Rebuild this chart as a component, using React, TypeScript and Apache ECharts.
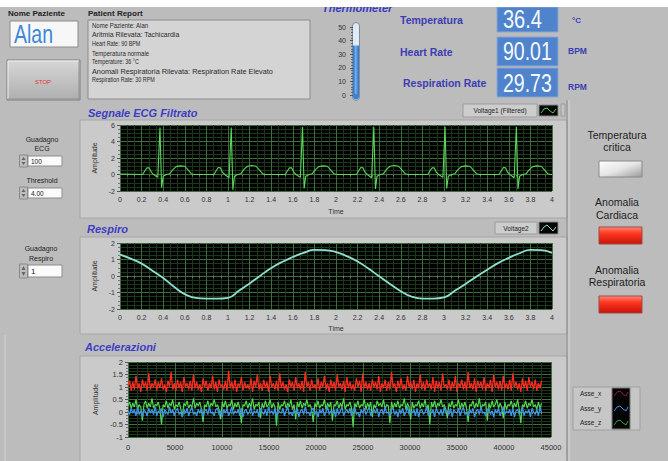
import React, { useEffect, useRef } from "react";
import * as echarts from "echarts";

const FONT = '"Liberation Sans", Arial, sans-serif';

// ---- Data ----
// ECG filtered signal: [time (s), amplitude]
const ecgPoints: number[][] = [
  [0, 0.05], [0.21, 0.0], [0.23, 0.45], [0.25, 0.8], [0.27, 0.8], [0.29, 0.3], [0.31, 0.0], [0.35, -0.35],
  [0.37, 5.7], [0.385, -1.6], [0.4, -0.2], [0.43, 0.0], [0.46, 0.1], [0.49, 0.6], [0.52, 0.95], [0.56, 1.05],
  [0.6, 1.0], [0.63, 0.55], [0.66, 0.1], [0.69, 0.0],
  [0.87, 0.0], [0.89, 0.45], [0.91, 0.85], [0.93, 0.8], [0.95, 0.25], [0.97, 0.0], [1.01, -0.4],
  [1.03, 5.7], [1.045, -1.85], [1.06, -0.2], [1.09, 0.0], [1.12, 0.1], [1.15, 0.65], [1.18, 1.0], [1.22, 1.1],
  [1.26, 1.0], [1.29, 0.55], [1.32, 0.1], [1.35, 0.0],
  [1.53, 0.0], [1.55, 0.45], [1.57, 0.8], [1.59, 0.8], [1.61, 0.25], [1.63, 0.0], [1.67, -0.35],
  [1.69, 5.75], [1.705, -1.7], [1.72, -0.2], [1.75, 0.0], [1.78, 0.1], [1.81, 0.6], [1.84, 0.95], [1.88, 1.05],
  [1.92, 1.0], [1.95, 0.55], [1.98, 0.1], [2.01, 0.0],
  [2.19, 0.0], [2.21, 0.45], [2.23, 0.85], [2.25, 0.8], [2.27, 0.25], [2.29, 0.0], [2.33, -0.4],
  [2.35, 5.8], [2.365, -1.75], [2.38, -0.2], [2.41, 0.0], [2.44, 0.1], [2.47, 0.65], [2.5, 1.0], [2.54, 1.1],
  [2.58, 1.0], [2.61, 0.55], [2.64, 0.1], [2.67, 0.0],
  [2.85, 0.0], [2.87, 0.45], [2.89, 0.8], [2.91, 0.8], [2.93, 0.25], [2.95, 0.0], [2.99, -0.35],
  [3.01, 5.8], [3.025, -1.7], [3.04, -0.2], [3.07, 0.0], [3.1, 0.1], [3.13, 0.6], [3.16, 0.95], [3.2, 1.05],
  [3.24, 1.0], [3.27, 0.55], [3.3, 0.1], [3.33, 0.0],
  [3.51, 0.0], [3.53, 0.45], [3.55, 0.85], [3.57, 0.8], [3.59, 0.25], [3.61, 0.0], [3.65, -0.4],
  [3.67, 5.8], [3.685, -1.75], [3.7, -0.2], [3.73, 0.0], [3.76, 0.1], [3.79, 0.6], [3.82, 0.95], [3.86, 1.05],
  [3.9, 1.0], [3.93, 0.55], [3.96, 0.1], [3.99, 0.0], [4.0, 0.0],
];

// Respiration signal
const respTimes = [
  0, 0.1, 0.2, 0.3, 0.4, 0.5, 0.6, 0.7, 0.8, 0.9, 1.0, 1.1, 1.2, 1.3, 1.4, 1.5, 1.6, 1.7, 1.8, 1.9, 2.0,
  2.1, 2.2, 2.3, 2.4, 2.5, 2.6, 2.7, 2.8, 2.9, 3.0, 3.1, 3.2, 3.3, 3.4, 3.5, 3.6, 3.7, 3.8, 3.9, 4.0,
];
const respValues = [
  1.3, 1.05, 0.75, 0.32, -0.12, -0.65, -1.1, -1.33, -1.37, -1.37, -1.32, -0.9, -0.45, 0.02, 0.48, 0.85, 1.15,
  1.4, 1.58, 1.57, 1.45, 1.2, 0.88, 0.45, -0.02, -0.48, -0.92, -1.25, -1.37, -1.37, -1.3, -0.9, -0.48, -0.04,
  0.38, 0.78, 1.1, 1.38, 1.58, 1.57, 1.4,
];

// Accelerations (samples 0..accLastSample)
const accLastSample = 44000;
const accAsseX = [
  1.05, 1.25, 0.85, 1.2, 0.9, 1.45, 0.95, 1.15, 0.8, 1.3, 1.0, 1.2, 0.85, 1.55, 0.9, 1.15, 1.0, 1.3, 0.85, 1.2,
  0.95, 1.35, 0.9, 1.1, 0.8, 1.25, 1.0, 1.6, 0.9, 1.15, 0.85, 1.3, 0.95, 1.2, 0.8, 1.4, 1.0, 1.15, 0.9, 1.25,
  0.85, 1.5, 0.95, 1.2, 0.9, 1.1, 0.8, 1.35, 1.0, 1.25, 0.85, 1.15, 0.95, 1.45, 0.9, 1.2, 0.8, 1.3, 1.0, 1.1,
  0.9, 1.25, 0.85, 1.65, 0.95, 1.2, 0.9, 1.3, 0.8, 1.15, 1.0, 1.4, 0.85, 1.2, 0.95, 1.1, 0.9, 1.35, 0.8, 1.25,
  1.0, 1.5, 0.9, 1.15, 0.85, 1.3, 0.95, 1.2, 0.8, 1.45, 1.0, 1.15, 0.9, 1.25, 0.85, 1.55, 0.95, 1.2, 0.9, 1.1,
  0.8, 1.3, 1.0, 1.2, 0.85, 1.4, 0.95, 1.15, 0.9, 1.25, 0.8, 1.6, 1.0, 1.2, 0.85, 1.3, 0.95, 1.1, 0.9, 1.35,
  0.85, 1.2, 1.0, 1.45, 0.9, 1.15, 0.8, 1.3, 0.95, 1.2, 0.85, 1.5, 1.0, 1.15, 0.9, 1.25, 0.8, 1.4, 0.95, 1.2,
  0.9, 1.1, 0.85, 1.35, 1.0, 1.25, 0.8, 1.55, 0.95, 1.2, 0.9, 1.15, 0.85, 1.3, 1.0, 1.2, 0.9, 1.45, 0.8, 1.15,
  0.95, 1.3, 0.85, 1.2, 0.9, 1.6, 1.0, 1.15, 0.8, 1.25, 0.95, 1.35, 0.9, 1.1, 0.85, 1.45, 1.0, 1.2, 0.9, 1.3,
  0.8, 1.15, 0.95, 1.5, 0.9, 1.2, 0.85, 1.3, 1.0, 1.15, 0.9, 1.4, 0.8, 1.25, 0.95, 1.2, 0.85, 1.55, 1.0, 1.1,
  0.9, 1.3, 0.85, 1.2, 0.95, 1.45, 0.8, 1.15, 1.0, 1.3, 0.9, 1.2, 0.85, 1.6, 0.95, 1.15, 0.9, 1.35, 0.8, 1.25,
  1.0, 1.2, 0.9, 1.4, 0.85, 1.15, 0.95, 1.3, 0.8, 1.5, 1.0, 1.2, 0.9, 1.25, 0.85, 1.45, 0.95, 1.15, 0.9, 1.3,
  0.85, 1.55, 1.0, 1.2, 0.9, 1.15, 0.8, 1.35, 0.95, 1.25, 0.85, 1.4, 1.0, 1.2, 0.9, 1.3, 0.85, 1.15, 0.95, 1.25,
];
const accAsseY = [
  0.05, -0.1, 0.15, -0.05, 0.1, -0.15, 0.2, -0.1, 0.05, -0.2, 0.1, 0.0, -0.15, 0.15, -0.05, 0.1, -0.1, 0.2, -0.15, 0.05,
  -0.05, 0.15, -0.2, 0.1, 0.0, -0.1, 0.2, -0.05, 0.1, -0.15, 0.05, 0.15, -0.1, 0.0, -0.2, 0.1, -0.05, 0.15, -0.15, 0.05,
  0.2, -0.1, 0.0, -0.15, 0.1, -0.05, 0.15, -0.2, 0.05, 0.1, -0.1, 0.2, -0.05, 0.0, -0.15, 0.1, 0.15, -0.1, 0.05, -0.2,
  0.1, -0.05, 0.15, -0.15, 0.0, 0.2, -0.1, 0.05, -0.05, 0.1, -0.15, 0.15, -0.2, 0.05, 0.1, -0.1, 0.0, 0.2, -0.15, 0.05,
  -0.05, 0.1, -0.2, 0.15, 0.0, -0.1, 0.1, -0.15, 0.2, -0.05, 0.05, -0.1, 0.15, -0.2, 0.1, 0.0, -0.05, 0.15, -0.15, 0.05,
  0.2, -0.1, 0.0, -0.15, 0.1, -0.05, 0.15, -0.2, 0.05, 0.1, -0.1, 0.2, -0.05, 0.0, -0.15, 0.1, 0.15, -0.1, 0.05, -0.2,
  0.1, -0.05, 0.15, -0.15, 0.0, 0.2, -0.1, 0.05, -0.05, 0.1, -0.2, 0.15, -0.1, 0.05, 0.2, -0.15, 0.0, 0.1, -0.05, 0.15,
  -0.15, 0.05, 0.2, -0.1, 0.0, -0.2, 0.1, -0.05, 0.15, -0.1, 0.05, 0.2, -0.15, 0.0, 0.1, -0.05, 0.15, -0.2, 0.05, 0.1,
  -0.1, 0.2, -0.05, 0.0, -0.15, 0.1, 0.15, -0.1, 0.05, -0.2, 0.1, -0.05, 0.15, -0.15, 0.0, 0.2, -0.1, 0.05, -0.05, 0.1,
  -0.15, 0.15, -0.2, 0.05, 0.1, -0.1, 0.0, 0.2, -0.15, 0.05, -0.05, 0.1, -0.2, 0.15, 0.0, -0.1, 0.1, -0.15, 0.2, -0.05,
  0.05, -0.1, 0.15, -0.2, 0.1, 0.0, -0.05, 0.15, -0.15, 0.05, 0.2, -0.1, 0.0, -0.15, 0.1, -0.05, 0.15, -0.2, 0.05, 0.1,
  -0.1, 0.2, -0.05, 0.0, -0.15, 0.1, 0.15, -0.1, 0.05, -0.2, 0.1, -0.05, 0.15, -0.15, 0.0, 0.2, -0.1, 0.05, -0.05, 0.1,
  -0.15, 0.15, -0.2, 0.05, 0.1, -0.1, 0.0, 0.2, -0.15, 0.05, -0.05, 0.1, -0.2, 0.15, 0.0, -0.1, 0.1, -0.15, 0.2, -0.05,
];
const accAsseZ = [
  0.25, 0.4, 0.15, 0.35, 0.2, 0.5, 0.1, 0.3, 0.2, -0.35, 0.3, 0.45, 0.15, 0.35, 0.2, 0.55, 0.15, 0.3, 0.25, 0.4,
  0.1, -0.5, 0.3, 0.2, 0.45, 0.15, 0.35, 0.25, 0.5, 0.1, 0.3, 0.2, 0.4, 0.15, -0.2, 0.35, 0.25, 0.45, 0.15, 0.3,
  0.2, 0.55, 0.15, 0.35, 0.25, 0.4, 0.1, -0.4, 0.3, 0.2, 0.45, 0.15, 0.35, 0.25, 0.5, 0.2, 0.3, 0.1, -0.3, 0.4,
  0.2, 0.45, 0.15, 0.3, 0.25, 0.5, 0.1, 0.35, 0.2, 0.4, 0.15, -0.45, 0.3, 0.25, 0.45, 0.15, 0.35, 0.2, 0.55, 0.1,
  0.3, 0.25, 0.4, -0.25, 0.35, 0.15, 0.45, 0.2, 0.3, 0.5, 0.15, 0.35, 0.2, -0.55, 0.4, 0.1, 0.3, 0.25, 0.45, 0.15,
  0.35, 0.2, 0.5, 0.1, 0.3, -0.3, 0.4, 0.2, 0.45, 0.15, 0.35, 0.25, 0.5, 0.2, 0.3, 0.1, -0.4, 0.35, 0.2, 0.45,
  0.15, 0.3, 0.25, 0.5, 0.1, 0.35, 0.2, 0.4, -0.35, 0.3, 0.25, 0.45, 0.15, 0.35, 0.2, 0.55, 0.1, 0.3, 0.25, 0.4,
  0.15, -0.6, 0.35, 0.2, 0.45, 0.15, 0.3, 0.25, 0.5, 0.1, 0.35, 0.2, 0.4, -0.2, 0.3, 0.15, 0.45, 0.25, 0.35, 0.2,
  0.5, 0.1, 0.3, 0.25, -0.45, 0.4, 0.15, 0.35, 0.2, 0.45, 0.15, 0.3, 0.25, 0.55, 0.1, 0.35, 0.2, -0.3, 0.4, 0.15,
  0.3, 0.25, 0.45, 0.15, 0.35, 0.2, 0.5, 0.1, 0.3, -0.5, 0.4, 0.2, 0.45, 0.15, 0.35, 0.25, 0.5, 0.2, 0.3, 0.1,
  -0.25, 0.35, 0.2, 0.45, 0.15, 0.3, 0.25, 0.5, 0.1, 0.35, 0.2, 0.4, 0.15, -0.4, 0.3, 0.25, 0.45, 0.15, 0.35, 0.2,
  0.55, 0.1, 0.3, 0.25, 0.4, -0.35, 0.35, 0.15, 0.45, 0.2, 0.3, 0.5, 0.15, 0.35, 0.2, -0.25, 0.4, 0.1, 0.3, 0.25,
  0.45, 0.15, 0.35, 0.2, 0.5, 0.1, -0.45, 0.3, 0.2, 0.45, 0.15, 0.35, 0.25, 0.5, 0.2, 0.3, 0.1, 0.4, 0.15, 0.35,
];

const thermometerValue = 36.4;
const patientName = "Alan";
const temperaturaText = "36.4";
const heartRateText = "90.01";
const respirationRateText = "29.73";
const guadagnoEcgText = "100";
const thresholdText = "4.00";
const guadagnoRespiroText = "1";
const reportLines = [
  "Nome Paziente: Alan",
  "Aritmia Rilevata: Tachicardia",
  "Heart Rate: 90 BPM",
  "Temperatura normale",
  "Temperature: 36 °C",
  "Anomali Respiratoria Rilevata: Respiration Rate Elevato",
  "Respiration Rate: 30 RPM",
];

// ---- helpers ----
function T(x: number, y: number, text: string, o: any = {}) {
  return {
    type: "text",
    x,
    y,
    z: o.z ?? 20,
    scaleX: o.sx ?? 1,
    silent: true,
    style: {
      text,
      fill: o.fill ?? "#222",
      fontSize: o.size ?? 8,
      fontFamily: o.family ?? FONT,
      fontWeight: o.weight ?? "normal",
      fontStyle: o.italic ? "italic" : "normal",
      align: o.align ?? "left",
      verticalAlign: "middle",
      textAlign: o.align ?? "left",
      textVerticalAlign: "middle",
    },
  };
}
function Rc(x: number, y: number, w: number, h: number, fill: any, o: any = {}) {
  return {
    type: "rect",
    z: o.z ?? 5,
    silent: true,
    shape: { x, y, width: w, height: h, r: o.r ?? 0 },
    style: { fill, stroke: o.stroke ?? null, lineWidth: o.lw ?? 1 },
  };
}
function Ln(x1: number, y1: number, x2: number, y2: number, stroke: string, z = 6, lw = 1) {
  return { type: "line", z, silent: true, shape: { x1, y1, x2, y2 }, style: { stroke, lineWidth: lw } };
}
function Poly(points: number[][], stroke: string, z = 22, lw = 1) {
  return { type: "polyline", z, silent: true, shape: { points }, style: { stroke, lineWidth: lw, fill: null } };
}
const lin = (x2: number, y2: number, stops: [number, string][]) => ({
  type: "linear",
  x: 0,
  y: 0,
  x2,
  y2,
  colorStops: stops.map(([offset, color]) => ({ offset, color })),
});

function spinner(y: number, h: number) {
  return [
    Rc(19.5, y - 0.5, 8, h + 1, "#bdbdbd", { stroke: "#8a8a8a", z: 8 }),
    {
      type: "polygon",
      z: 9,
      silent: true,
      shape: { points: [[21.5, y + h / 2 - 1], [25.5, y + h / 2 - 1], [23.5, y + 1.5]] },
      style: { fill: "#666" },
    },
    {
      type: "polygon",
      z: 9,
      silent: true,
      shape: { points: [[21.5, y + h / 2 + 1], [25.5, y + h / 2 + 1], [23.5, y + h - 1.5]] },
      style: { fill: "#666" },
    },
  ];
}

const axisText = { color: "#333", fontFamily: FONT, fontSize: 7 };
const majorGrid = { show: true, lineStyle: { color: "#3e6f3e", width: 1 } };
const minorGrid = { show: true, lineStyle: { color: "#1d371d", width: 1 } };
const tickStyle = { show: true, length: 3, lineStyle: { color: "#555" } };
const minorTickStyle = (n: number) => ({ show: true, splitNumber: n, length: 2, lineStyle: { color: "#777" } });
const reportY = [25, 35, 43.5, 53, 62, 71, 80];
const reportSize = [7, 7.3, 6.3, 7, 6.3, 7.3, 6.3];
const reportScale = [0.86, 0.95, 0.86, 0.86, 0.86, 1.0, 0.86];

export default function App() {
  const ref = useRef<HTMLDivElement>(null);

  useEffect(() => {
    if (!ref.current) return;
    const chart = echarts.init(ref.current, undefined, { renderer: "svg" });

    const respPoints = respTimes.map((t, i) => [t, respValues[i]]);
    const accPts = (arr: number[]) => arr.map((v, i) => [(i * accLastSample) / (arr.length - 1), v]);

    const ledRed = lin(0, 1, [
      [0, "#ff8a7a"],
      [0.35, "#ff3a22"],
      [1, "#c81208"],
    ]);
    const ledWhite = lin(1, 1, [
      [0, "#ffffff"],
      [0.5, "#e6e6e6"],
      [1, "#9a9a9a"],
    ]);

    const graphicEls: any[] = [
      // page
      Rc(0, 0, 668, 461, "#bcbcbc", { z: -20 }),
      // graph frames
      Rc(80, 120, 487, 98, "#cacaca", { z: -10, stroke: "#a6a6a6" }),
      Rc(80, 237, 487, 97, "#cacaca", { z: -10, stroke: "#a6a6a6" }),
      Rc(80, 356, 487, 106, "#cacaca", { z: -10, stroke: "#a6a6a6" }),
      Ln(567, 100, 567, 461, "#8a8a8a", -8),
      Ln(569, 100, 569, 461, "#d6d6d6", -8),
      Ln(5, 335, 5, 461, "#d2d2d2", -8),

      // Nome Paziente
      T(8, 13, "Nome Paziente", { weight: "bold", size: 8 }),
      Rc(10, 21, 68, 26, "#f7f7f7", { stroke: "#8c8c8c" }),
      T(14, 34.5, patientName, { size: 25, fill: "#3c88d6", sx: 0.78 }),
      // STOP button
      Rc(7, 60, 73, 40, lin(0, 1, [[0, "#d6d6d6"], [1, "#afafaf"]]), { stroke: "#7e7e7e" }),
      Ln(8, 61, 79, 61, "#efefef", 6),
      Ln(8, 61, 8, 99, "#efefef", 6),
      Ln(79, 61, 79, 99, "#939393", 6),
      Ln(8, 99, 79, 99, "#939393", 6),
      T(43, 82, "STOP", { size: 6, fill: "#e03434", align: "center" }),

      // Patient report
      T(88, 13, "Patient Report", { weight: "bold", size: 8 }),
      Rc(88, 20, 222, 79, "#d4d4d4", { stroke: "#8c8c8c" }),
      ...reportLines.map((s, i) =>
        T(92, reportY[i], s, { size: reportSize[i], sx: reportScale[i], fill: "#2a2a2a" })
      ),

      // Thermometer
      T(322, 8, "Thermometer", { italic: true, weight: "bold", size: 11, fill: "#3b3bbd" }),
      Rc(352.5, 22.5, 7, 78, "#dfe7f1", { stroke: "#7c8ca4", r: 3.5, z: -2 }),
      Rc(353, 94, 6, 5.5, "#3f80cc", { r: [0, 0, 3, 3], z: 4 }),

      // Value indicators
      T(400, 20, "Temperatura", { weight: "bold", size: 10.5, fill: "#3c3cb4" }),
      T(400, 52, "Heart Rate", { weight: "bold", size: 10.5, fill: "#3c3cb4" }),
      T(403, 83, "Respiration Rate", { weight: "bold", size: 10.5, fill: "#3c3cb4" }),
      Rc(497, 7, 61, 25, "#4f83cc", { stroke: "#8aa6d4" }),
      Rc(497, 37, 61, 29, "#4f83cc", { stroke: "#8aa6d4" }),
      Rc(497, 68, 61, 29, "#4f83cc", { stroke: "#8aa6d4" }),
      T(503, 20, temperaturaText, { size: 25, fill: "#f4f8ff", sx: 0.8 }),
      T(503, 52, heartRateText, { size: 25, fill: "#f4f8ff", sx: 0.78 }),
      T(503, 84, respirationRateText, { size: 25, fill: "#f4f8ff", sx: 0.78 }),
      T(572, 20, "°C", { weight: "bold", size: 8, fill: "#3c3cb4" }),
      T(568, 51, "BPM", { weight: "bold", size: 8.5, fill: "#3c3cb4" }),
      T(568, 87, "RPM", { weight: "bold", size: 8.5, fill: "#3c3cb4" }),

      // Graph titles
      T(88, 113, "Segnale ECG Filtrato", { italic: true, weight: "bold", size: 11, fill: "#3c3cc4" }),
      T(87, 229, "Respiro", { italic: true, weight: "bold", size: 11, fill: "#3c3cc4" }),
      T(85, 347, "Accelerazioni", { italic: true, weight: "bold", size: 11, fill: "#3c3cc4" }),

      // ECG legend
      Rc(463, 104, 74, 13, "#cdcdcd", { stroke: "#9c9c9c" }),
      T(500, 110.5, "Voltage1 (Filtered)", { size: 6.5, align: "center", sx: 1 }),
      Rc(539, 105, 19, 11, "#050505", { stroke: "#888" }),
      Poly([[541, 113], [544, 109], [547, 108], [550, 111], [553, 113], [556, 109]], "#56c956"),
      Rc(561, 104, 4, 12, "#c4c4c4", { stroke: "#9a9a9a" }),
      // Respiro legend
      Rc(495, 222, 42, 12, "#cdcdcd", { stroke: "#9c9c9c" }),
      T(516, 228, "Voltage2", { size: 6.5, align: "center" }),
      Rc(539, 222, 19, 12, "#050505", { stroke: "#888" }),
      Poly([[541, 231], [544, 227], [547, 225], [550, 228], [553, 231], [556, 227]], "#8ee0d0"),
      // Acc legend
      Rc(573, 387, 67, 43, "#c6c6c6", { stroke: "#a0a0a0" }),
      Rc(612, 388, 18, 41, "#050505", { stroke: "#777" }),
      T(580, 393.5, "Asse_x", { size: 6.5 }),
      T(580, 408, "Asse_y", { size: 6.5 }),
      T(580, 422, "Asse_z", { size: 6.5 }),
      Poly([[614, 396], [617, 392], [620, 391], [623, 394], [626, 396], [628, 392]], "#8a2030"),
      Poly([[614, 411], [617, 407], [620, 406], [623, 409], [626, 411], [628, 407]], "#3f94e6"),
      Poly([[614, 425], [617, 421], [620, 420], [623, 423], [626, 425], [628, 421]], "#3e9a3e"),

      // Right indicators
      T(617, 135, "Temperatura", { size: 10.5, align: "center", fill: "#1c1c1c" }),
      T(617, 147, "critica", { size: 10.5, align: "center", fill: "#1c1c1c" }),
      Rc(599, 161, 43, 16, ledWhite, { stroke: "#8a8a8a" }),
      T(617, 202, "Anomalia", { size: 10.5, align: "center", fill: "#1c1c1c" }),
      T(617, 214.5, "Cardiaca", { size: 10.5, align: "center", fill: "#1c1c1c" }),
      Rc(599, 227, 43, 17, ledRed, { stroke: "#9a4a44" }),
      T(617, 270, "Anomalia", { size: 10.5, align: "center", fill: "#1c1c1c" }),
      T(617, 282, "Respiratoria", { size: 10.5, align: "center", fill: "#1c1c1c" }),
      Rc(599, 296, 43, 17, ledRed, { stroke: "#9a4a44" }),

      // Left controls
      T(42, 139, "Guadagno", { size: 7, align: "center" }),
      T(42, 148, "ECG", { size: 7, align: "center" }),
      Rc(28, 156, 34, 10, "#fbfbfb", { stroke: "#8c8c8c" }),
      ...spinner(155.5, 11),
      T(31, 161, guadagnoEcgText, { size: 6.5 }),
      T(42, 180, "Threshold", { size: 7, align: "center" }),
      Rc(28, 188, 34, 10, "#fbfbfb", { stroke: "#8c8c8c" }),
      ...spinner(187.5, 11),
      T(31, 193, thresholdText, { size: 6.5 }),
      T(41, 248, "Guadagno", { size: 7, align: "center" }),
      T(41, 258, "Respiro", { size: 7, align: "center" }),
      Rc(28, 265, 34, 12, "#fbfbfb", { stroke: "#8c8c8c" }),
      ...spinner(264.5, 13),
      T(31, 271, guadagnoRespiroText, { size: 8 }),

      // top white strip
      Rc(0, 0, 668, 7, "#ffffff", { z: 50 }),
    ];

    const plotGrid = (left: number, top: number, width: number, height: number) => ({
      left,
      top,
      width,
      height,
      show: true,
      backgroundColor: "#000000",
      borderWidth: 0,
      containLabel: false,
    });

    const option: any = {
      animation: false,
      backgroundColor: "transparent",
      grid: [
        plotGrid(120, 125, 432, 66),
        plotGrid(120, 243, 432, 66),
        plotGrid(128, 362, 423, 75),
        { left: 353, top: 27, width: 6, height: 68, show: false, containLabel: false },
      ],
      xAxis: [
        {
          gridIndex: 0, type: "value", min: 0, max: 4, interval: 0.2,
          axisLine: { show: false }, axisTick: tickStyle, minorTick: minorTickStyle(3),
          axisLabel: { ...axisText, margin: 5 },
          splitLine: majorGrid, minorSplitLine: minorGrid,
          name: "Time", nameLocation: "middle", nameGap: 17, nameTextStyle: { ...axisText },
        },
        {
          gridIndex: 1, type: "value", min: 0, max: 4, interval: 0.2,
          axisLine: { show: false }, axisTick: tickStyle, minorTick: minorTickStyle(3),
          axisLabel: { ...axisText, margin: 5 },
          splitLine: majorGrid, minorSplitLine: minorGrid,
          name: "Time", nameLocation: "middle", nameGap: 16, nameTextStyle: { ...axisText },
        },
        {
          gridIndex: 2, type: "value", min: 0, max: 45000, interval: 5000,
          axisLine: { show: false }, axisTick: tickStyle, minorTick: minorTickStyle(5),
          axisLabel: { ...axisText, fontSize: 7.5, margin: 6, formatter: (v: number) => String(v) },
          splitLine: majorGrid, minorSplitLine: minorGrid,
        },
        { gridIndex: 3, type: "category", data: ["T"], show: false },
      ],
      yAxis: [
        {
          gridIndex: 0, type: "value", min: -2, max: 6, interval: 2,
          axisLine: { show: false }, axisTick: tickStyle, minorTick: minorTickStyle(4),
          axisLabel: { ...axisText, margin: 5 },
          splitLine: majorGrid, minorSplitLine: minorGrid,
          name: "Amplitude", nameLocation: "middle", nameGap: 13, nameRotate: 90, nameTextStyle: { ...axisText },
        },
        {
          gridIndex: 1, type: "value", min: -2, max: 2, interval: 1,
          axisLine: { show: false }, axisTick: tickStyle, minorTick: minorTickStyle(4),
          axisLabel: { ...axisText, margin: 5 },
          splitLine: majorGrid, minorSplitLine: minorGrid,
          name: "Amplitude", nameLocation: "middle", nameGap: 13, nameRotate: 90, nameTextStyle: { ...axisText },
        },
        {
          gridIndex: 2, type: "value", min: -1, max: 2, interval: 0.5,
          axisLine: { show: false }, axisTick: tickStyle, minorTick: minorTickStyle(4),
          axisLabel: { ...axisText, fontSize: 7.5, margin: 5 },
          splitLine: majorGrid, minorSplitLine: minorGrid,
          name: "Amplitude", nameLocation: "middle", nameGap: 21, nameRotate: 90, nameTextStyle: { ...axisText },
        },
        {
          gridIndex: 3, type: "value", min: 0, max: 50, interval: 10,
          axisLine: { show: false }, axisTick: { show: true, length: 3, lineStyle: { color: "#555" } },
          minorTick: { show: true, splitNumber: 5, length: 2, lineStyle: { color: "#666" } },
          axisLabel: { ...axisText, margin: 7 },
          splitLine: { show: false },
        },
      ],
      series: [
        {
          name: "Voltage1 (Filtered)", type: "line", xAxisIndex: 0, yAxisIndex: 0, data: ecgPoints,
          showSymbol: false, lineStyle: { color: "#5ad65a", width: 1.1 }, z: 3,
        },
        {
          name: "Voltage2", type: "line", xAxisIndex: 1, yAxisIndex: 1, data: respPoints, smooth: true,
          showSymbol: false, lineStyle: { color: "#8ee0d0", width: 1.8 }, z: 3,
        },
        {
          name: "Asse_x", type: "line", xAxisIndex: 2, yAxisIndex: 2, data: accPts(accAsseX),
          showSymbol: false, lineStyle: { color: "#ff2b1f", width: 1.3 }, z: 3,
        },
        {
          name: "Asse_z", type: "line", xAxisIndex: 2, yAxisIndex: 2, data: accPts(accAsseZ),
          showSymbol: false, lineStyle: { color: "#52d852", width: 1.2 }, z: 3,
        },
        {
          name: "Asse_y", type: "line", xAxisIndex: 2, yAxisIndex: 2, data: accPts(accAsseY),
          showSymbol: false, lineStyle: { color: "#3f94e6", width: 1.3 }, z: 4,
        },
        {
          name: "Thermometer", type: "bar", xAxisIndex: 3, yAxisIndex: 3, data: [thermometerValue],
          barWidth: 6,
          itemStyle: { color: lin(1, 0, [[0, "#2f6cbf"], [0.45, "#6fb0ee"], [1, "#2f6cbf"]]) },
          showBackground: true, backgroundStyle: { color: "#e3eaf3" }, z: 3,
        },
      ],
      graphic: { elements: graphicEls },
    };

    chart.setOption(option);
    return () => chart.dispose();
  }, []);

  return (
    <div
      ref={ref}
      style={{ position: "absolute", left: 0, top: 0, width: 668, height: 461 }}
    />
  );
}
